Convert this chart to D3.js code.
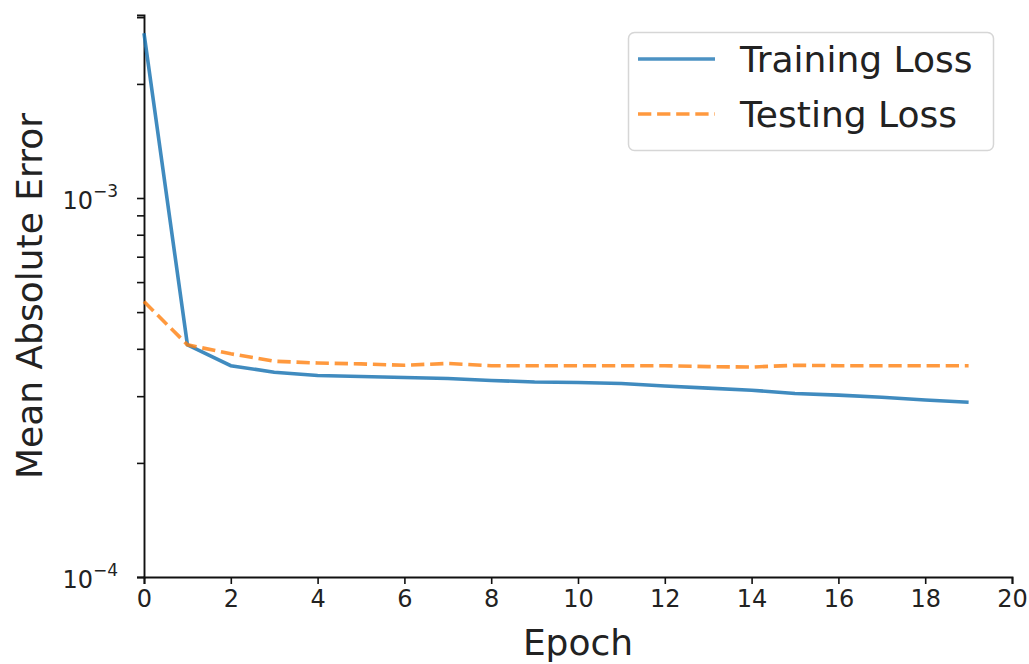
<!DOCTYPE html>
<html>
<head>
<meta charset="utf-8">
<script src="https://cdn.jsdelivr.net/npm/d3@7"></script>
<style>
    body { margin: 0; background: #fff; }
    text { font-family: "DejaVu Sans", sans-serif; }
</style>
</head>
<body>
<div id="chart"></div>
<script>
// data
var epochs = [0, 1, 2, 3, 4, 5, 6, 7, 8, 9, 10, 11, 12, 13, 14, 15, 16, 17, 18, 19];
var training_loss = [2.72e-3, 4.10e-4, 3.61e-4, 3.47e-4, 3.40e-4, 3.38e-4, 3.36e-4, 3.34e-4, 3.30e-4, 3.27e-4,
    3.26e-4, 3.24e-4, 3.19e-4, 3.15e-4, 3.11e-4, 3.05e-4, 3.02e-4, 2.98e-4, 2.93e-4, 2.89e-4];
var testing_loss = [5.33e-4, 4.10e-4, 3.88e-4, 3.71e-4, 3.67e-4, 3.65e-4, 3.62e-4, 3.66e-4, 3.61e-4, 3.61e-4,
    3.61e-4, 3.61e-4, 3.61e-4, 3.59e-4, 3.58e-4, 3.62e-4, 3.61e-4, 3.61e-4, 3.61e-4, 3.61e-4];
var x_ticks = [0, 2, 4, 6, 8, 10, 12, 14, 16, 18, 20];
var y_major = [1e-4, 1e-3];
var y_major_exp = ["\u22124", "\u22123"];
var y_minor = [2e-4, 3e-4, 4e-4, 5e-4, 6e-4, 7e-4, 8e-4, 9e-4, 2e-3, 3e-3];
var series_names = ["Training Loss", "Testing Loss"];

var margin = {
    top: 15,
    right: 17,
    bottom: 87,
    left: 144
};

var width = 1029, height = 664;
var chart_width = width - margin.left - margin.right;
var chart_height = height - margin.top - margin.bottom;

var blue = "#1f77b4", orange = "#ff7f0e";
var lw = 3.6;
var dash = "13.3,5.8";

var svg = d3.select('#chart')
    .append('svg')
    .attr('width', width)
    .attr('height', height)
    .append('g')
    .attr('transform', 'translate(' + margin.left + ',' + margin.top + ')');

var x = d3.scaleLinear()
    .domain([0, 20])
    .range([0, chart_width]);

var y = d3.scaleLog()
    .domain([1e-4, 3.04e-3])
    .range([chart_height, 0]);

// x axis
var xAxis = svg.append('g')
    .attr('transform', 'translate(0,' + chart_height + ')')
    .call(d3.axisBottom(x).tickValues(x_ticks).tickSizeOuter(0).tickSize(7).tickPadding(6));

// y axis, ticks only, labels added below
var yAxis = svg.append('g')
    .call(d3.axisLeft(y).tickValues(y_major.concat(y_minor)).tickFormat('').tickSizeOuter(0).tickSize(7));

[xAxis, yAxis].forEach(function (g) {
    g.select('.domain').attr('stroke', '#111').attr('stroke-width', 1.9);
    g.selectAll('.tick line').attr('stroke', '#111').attr('stroke-width', 1.6);
});
xAxis.selectAll('.tick text')
    .attr('fill', '#222')
    .style('font-size', '24px')
    .style('font-family', '"DejaVu Sans", sans-serif');

var ylab = svg.selectAll('.ymajor')
    .data(y_major)
    .enter()
    .append('text')
    .attr('class', 'ymajor')
    .attr('x', -26)
    .attr('y', function (d) { return y(d) + 11; })
    .attr('text-anchor', 'end')
    .attr('fill', '#222')
    .style('font-size', '24px');
ylab.append('tspan').text('10');
ylab.append('tspan')
    .attr('dy', -12)
    .style('font-size', '17px')
    .text(function (d, i) { return y_major_exp[i]; });

// axis titles
svg.append('text')
    .attr('x', chart_width / 2)
    .attr('y', chart_height + 78)
    .attr('text-anchor', 'middle')
    .attr('fill', '#222')
    .style('font-size', '36px')
    .text('Epoch');

svg.append('text')
    .attr('transform', 'translate(' + (42 - margin.left) + ',' + (chart_height / 2) + ') rotate(-90)')
    .attr('text-anchor', 'middle')
    .attr('fill', '#222')
    .style('font-size', '36px')
    .text('Mean Absolute Error');

// lines
var line = d3.line()
    .x(function (d, i) { return x(epochs[i]); })
    .y(function (d) { return y(d); });

svg.append('path')
    .datum(training_loss)
    .attr('d', line)
    .attr('fill', 'none')
    .attr('stroke', blue)
    .attr('stroke-opacity', 0.85)
    .attr('stroke-width', lw);

svg.append('path')
    .datum(testing_loss)
    .attr('d', line)
    .attr('fill', 'none')
    .attr('stroke', orange)
    .attr('stroke-opacity', 0.8)
    .attr('stroke-width', lw)
    .attr('stroke-dasharray', dash);

// legend
var legend = svg.append('g')
    .attr('transform', 'translate(' + (628 - margin.left) + ',' + (32 - margin.top) + ')');

legend.append('rect')
    .attr('x', 0.5)
    .attr('y', 0.5)
    .attr('width', 365)
    .attr('height', 118)
    .attr('rx', 6)
    .attr('fill', '#fff')
    .attr('fill-opacity', 0.8)
    .attr('stroke', '#d6d6d6')
    .attr('stroke-width', 1.5);

var items = legend.selectAll('.item')
    .data(series_names)
    .enter()
    .append('g')
    .attr('transform', function (d, i) { return 'translate(0,' + (27 + i * 55) + ')'; });

items.append('line')
    .attr('x1', 10)
    .attr('x2', 87)
    .attr('stroke', function (d, i) { return i == 0 ? blue : orange; })
    .attr('stroke-opacity', 0.8)
    .attr('stroke-width', lw)
    .attr('stroke-dasharray', function (d, i) { return i == 0 ? null : dash; });

items.append('text')
    .attr('x', 112)
    .attr('y', 13)
    .attr('fill', '#222')
    .style('font-size', '36px')
    .text(function (d) { return d; });
</script>
</body>
</html>
